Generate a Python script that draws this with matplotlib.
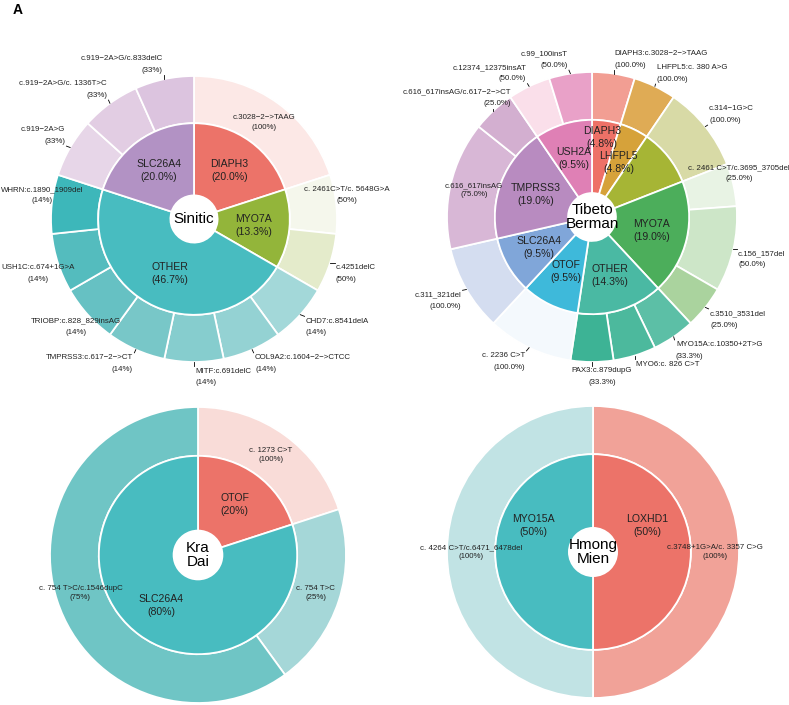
import numpy as np
import matplotlib
matplotlib.use("Agg")
import matplotlib.pyplot as plt

plt.rcParams['font.family'] = ['Liberation Sans', 'DejaVu Sans']

# ---- Sinitic ----
sin_genes = ['DIAPH3', 'MYO7A', 'OTHER', 'SLC26A4']
sin_gene_n = [3, 2, 7, 3]
sin_vars = ['c.3028−2−>TAAG', 'c. 2461C>T/c. 5648G>A', 'c.4251delC',
            'CHD7:c.8541delA', 'COL9A2:c.1604−2−>CTCC', 'MITF:c.691delC',
            'TMPRSS3:c.617−2−>CT', 'TRIOBP:c.828_829insAG', 'USH1C:c.674+1G>A',
            'WHRN:c.1890_1909del', 'c.919−2A>G', 'c.919−2A>G/c. 1336T>C',
            'c.919−2A>G/c.833delC']
sin_var_gene = [0, 1, 1, 2, 2, 2, 2, 2, 2, 2, 3, 3, 3]
sin_var_n = [3, 1, 1, 1, 1, 1, 1, 1, 1, 1, 1, 1, 1]

# ---- Tibeto Berman ----
# the third gene has no visible label in the original
tib_genes = ['DIAPH3', 'LHFPL5', '', 'MYO7A', 'OTHER', 'OTOF', 'SLC26A4', 'TMPRSS3', 'USH2A']
tib_gene_n = [1, 1, 2, 4, 3, 2, 2, 4, 2]
tib_vars = ['DIAPH3:c.3028−2−>TAAG', 'LHFPL5:c. 380 A>G', 'c.314−1G>C',
            'c. 2461 C>T/c.3695_3705del', 'c.156_157del', 'c.3510_3531del',
            'MYO15A:c.10350+2T>G', 'MYO6:c. 826 C>T', 'PAX3:c.879dupG',
            'c. 2236 C>T', 'c.311_321del', 'c.616_617insAG',
            'c.616_617insAG/c.617−2−>CT', 'c.12374_12375insAT', 'c.99_100insT']
tib_var_gene = [0, 1, 2, 3, 3, 3, 4, 4, 4, 5, 6, 7, 7, 8, 8]
tib_var_n = [1, 1, 2, 1, 2, 1, 1, 1, 1, 2, 2, 3, 1, 1, 1]

# ---- Kra Dai ----
kra_genes = ['OTOF', 'SLC26A4']
kra_gene_n = [1, 4]
kra_vars = ['c. 1273 C>T', 'c. 754 T>C', 'c. 754 T>C/c.1546dupC']
kra_var_gene = [0, 1, 1]
kra_var_n = [1, 1, 3]

# ---- Hmong Mien ----
hm_genes = ['LOXHD1', 'MYO15A']
hm_gene_n = [1, 1]
hm_vars = ['c.3748+1G>A/c. 3357 C>G', 'c. 4264 C>T/c.6471_6478del']
hm_var_gene = [0, 1]
hm_var_n = [1, 1]

# colours
sin_gene_cols = ['#EC7369', '#93B53A', '#48BCC0', '#B292C4']
sin_var_cols = ['#FCE8E6', '#F5F7EC', '#E4EBCB', '#A3D8D9', '#94D2D3', '#86CDCE',
                '#78C7C8', '#66C1C3', '#54BCBE', '#3DB7BA', '#E7D6E8', '#E2CDE3', '#DCC4DF']
tib_gene_cols = ['#EE7167', '#D6A23A', '#A6B535', '#4CAE5B', '#4AB9A3', '#3EB9DA',
                 '#80A6D9', '#B88BC0', '#DF80B5']
tib_var_cols = ['#F29E93', '#DFAB55', '#D8DAA6', '#E8F3E4', '#CDE6C8', '#AAD39E',
                '#5CBFA6', '#4CB99D', '#3DB395', '#F4F9FD', '#D4DDF0', '#D8B7D6',
                '#D3AFD0', '#FADFEA', '#E9A1C8']
kra_gene_cols = ['#EC7369', '#48BCC0']
kra_var_cols = ['#F9DCD8', '#A5D7D8', '#6FC5C5']
hm_gene_cols = ['#EC7369', '#48BCC0']
hm_var_cols = ['#F1A298', '#C1E3E4']

# repelled label spots (radius units): x anchor, block centre y, alignment
# None = default spot inside the ring
sin_out_pos = [None, (1.070, 0.168, 'center'), (0.993, -0.381, 'left'),
               (0.783, -0.755, 'left'), (0.427, -1.010, 'left'), (0.007, -1.105, 'left'),
               (-0.427, -1.010, 'right'), (-0.825, -0.755, 'center'),
               (-1.087, -0.381, 'center'), (-1.063, 0.168, 'center'),
               (-0.902, 0.584, 'right'), (-0.608, 0.906, 'right'), (-0.217, 1.080, 'right')]
tib_out_pos = [(0.152, 1.086, 'left'), (0.448, 0.990, 'left'), (0.807, 0.707, 'left'),
               (1.014, 0.303, 'center'), (1.007, -0.290, 'left'), (0.814, -0.707, 'left'),
               (0.579, -0.921, 'left'), (0.303, -1.014, 'left'), (0.069, -1.100, 'center'),
               (-0.462, -0.997, 'right'), (-0.903, -0.579, 'right'), None,
               (-0.560, 0.821, 'right'), (-0.455, 0.993, 'right'), (-0.169, 1.086, 'right')]
tib_in_pos = [(0.069, 0.548), None, None, None, None, None, None, None, None]
hm_in_pos = [(0.372, 0.184), (-0.410, 0.184)]

W, H = 789, 705
fig = plt.figure(figsize=(W / 100, H / 100), dpi=100)
leaders = []
txt = dict(fontsize=5.7, color='#222222')


def mid_angles(n):
    n = np.asarray(n, float)
    return (np.cumsum(n) - n / 2) / n.sum() * 2 * np.pi


def draw_chart(cx, cy, R, title, genes, gene_n, gene_cols, vars_, var_gene, var_n,
               var_cols, fmt_in, fmt_out, in_pos=None, out_pos=None, no_pct=()):
    L = 1.6
    ax = fig.add_axes([(cx - L * R) / W, (H - cy - L * R) / H, 2 * L * R / W, 2 * L * R / H])
    wp = dict(edgecolor='white', linewidth=1.3)
    ax.pie(var_n, radius=1, colors=var_cols, startangle=90, counterclock=False,
           wedgeprops=dict(width=0.33, **wp))
    ax.pie(gene_n, radius=0.67, colors=gene_cols, startangle=90, counterclock=False,
           wedgeprops=dict(width=0.505, **wp))
    ax.set_xlim(-L, L)
    ax.set_ylim(-L, L)
    ax.set_aspect('equal')
    ax.axis('off')

    total = sum(gene_n)
    th = mid_angles(gene_n)
    for i, g in enumerate(genes):
        if not g:
            continue
        x, y = 0.42 * np.sin(th[i]), 0.42 * np.cos(th[i])
        if in_pos and in_pos[i]:
            x, y = in_pos[i]
        ax.text(x, y, g + '\n(' + fmt_in.format(100 * gene_n[i] / total) + '%)',
                ha='center', va='center', fontsize=7.6, linespacing=1.35, color='#222222')

    d = 5.7 / R  # half line gap
    th = mid_angles(var_n)
    for i, v in enumerate(vars_):
        pct = '(' + fmt_out.format(100 * var_n[i] / gene_n[var_gene[i]]) + '%)'
        p = out_pos[i] if out_pos else None
        if p is None:
            ax.text(0.835 * np.sin(th[i]), 0.835 * np.cos(th[i]), v + '\n' + pct,
                    ha='center', va='center', linespacing=1.45, **txt)
            continue
        x, y, al = p
        if i in no_pct:
            parts = [ax.text(x, y, v, ha=al, va='center', **txt)]
        else:
            parts = [ax.text(x, y + d, v, ha=al, va='center', **txt),
                     ax.text(x, y - d, pct, ha=al, va='center', **txt)]
        leaders.append((ax, parts, np.sin(th[i]), np.cos(th[i])))

    ax.text(0, 0, title, ha='center', va='center', fontsize=11, linespacing=0.95)


draw_chart(194, 219, 143, 'Sinitic', sin_genes, sin_gene_n, sin_gene_cols, sin_vars,
           sin_var_gene, sin_var_n, sin_var_cols, '{:.1f}', '{:.0f}', out_pos=sin_out_pos)
draw_chart(592, 217, 145, 'Tibeto\nBerman', tib_genes, tib_gene_n, tib_gene_cols, tib_vars,
           tib_var_gene, tib_var_n, tib_var_cols, '{:.1f}', '{:.1f}',
           in_pos=tib_in_pos, out_pos=tib_out_pos, no_pct=(7,))
draw_chart(198, 555, 148, 'Kra\nDai', kra_genes, kra_gene_n, kra_gene_cols, kra_vars,
           kra_var_gene, kra_var_n, kra_var_cols, '{:.0f}', '{:.0f}')
draw_chart(593, 552, 146, 'Hmong\nMien', hm_genes, hm_gene_n, hm_gene_cols, hm_vars,
           hm_var_gene, hm_var_n, hm_var_cols, '{:.0f}', '{:.0f}', in_pos=hm_in_pos)

fig.text(13 / W, 1 - 3 / H, 'A', fontsize=10, fontweight='bold', ha='left', va='top')

# leader segments from the ring edge to the nearest point of each label box
fig.canvas.draw()
r = fig.canvas.get_renderer()
for ax, parts, px, py in leaders:
    boxes = [t.get_window_extent(r).transformed(ax.transData.inverted()) for t in parts]
    x0 = min(b.x0 for b in boxes) - 0.01
    x1 = max(b.x1 for b in boxes) + 0.01
    y0 = min(b.y0 for b in boxes) - 0.01
    y1 = max(b.y1 for b in boxes) + 0.01
    qx = min(max(px, x0), x1)
    qy = min(max(py, y0), y1)
    if np.hypot(qx - px, qy - py) > 0.012:
        ax.plot([px, qx], [py, qy], color='black', lw=0.6, clip_on=False, zorder=5)

fig.savefig('out.png', dpi=100)
